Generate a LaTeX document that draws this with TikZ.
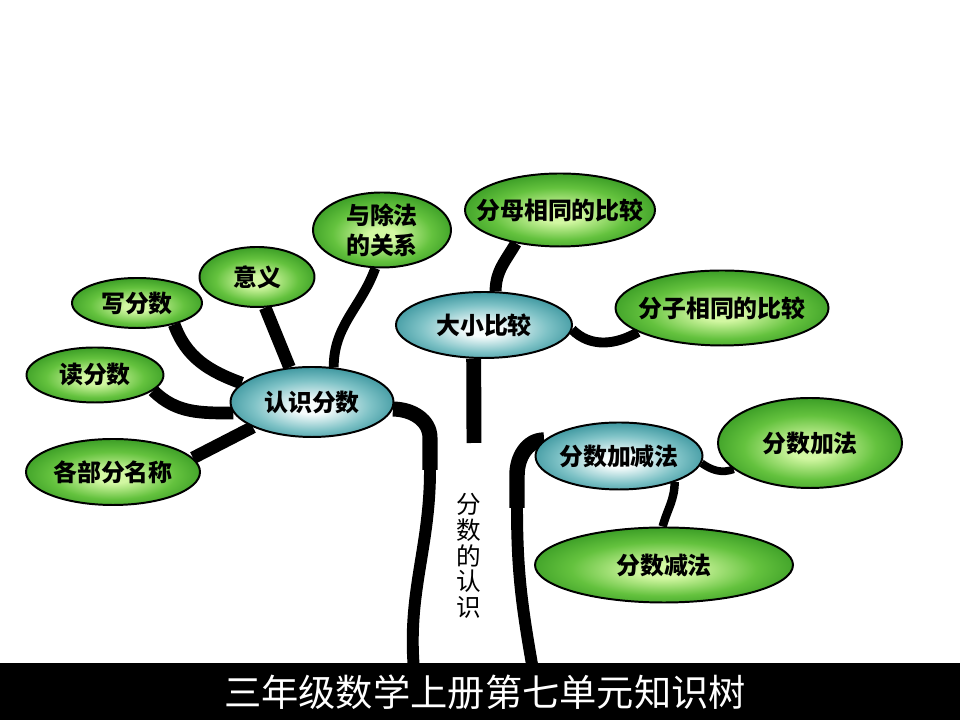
\documentclass[tikz,border=0pt]{standalone}
\usepackage{fontspec}
\newfontfamily\cjk{Noto Sans CJK SC}
\usetikzlibrary{shapes.geometric,backgrounds}
\definecolor{leaflight}{HTML}{D2F7A2}
\definecolor{leafmid}{HTML}{64C23E}
\definecolor{leafdark}{HTML}{2A8E1C}
\definecolor{hublight}{HTML}{F6FCFC}
\definecolor{hubmid}{HTML}{7EC2C6}
\definecolor{hubdark}{HTML}{2A8A94}
\pgfdeclareradialshading{leafshade}{\pgfpoint{0bp}{-4bp}}{color(0bp)=(leaflight); color(5bp)=(leaflight); color(18bp)=(leafmid); color(31bp)=(leafdark); color(50bp)=(leafdark)}
\pgfdeclareradialshading{hubshade}{\pgfpoint{0bp}{-4bp}}{color(0bp)=(hublight); color(5bp)=(hublight); color(18bp)=(hubmid); color(30bp)=(hubdark); color(50bp)=(hubdark)}
\tikzset{
  leaf/.style={ellipse, draw, line width=1.4pt, inner xsep=-30pt, inner ysep=-8pt, shade, shading=leafshade, align=center, font=\cjk\bfseries\fontsize{17}{21}\selectfont},
  hub/.style={leaf, shading=hubshade},
  sz/.style 2 args={minimum width=#1*0.025cm, minimum height=#2*0.025cm},
  twig/.style={line width=#1, line cap=butt},
  twig/.default=9pt
}

\begin{document}
\begin{tikzpicture}[x=0.025cm, y=0.025cm]
\useasboundingbox (0,0) rectangle (960,720);
% main hubs
\node[hub, sz={163}{70}] (know) at (312,318) {认识分数};
\node[hub, sz={176}{66}] (compare) at (484,395) {大小比较};
\node[hub, sz={167}{67}] (addsub) at (619,264) {分数加减法};
% leaves
\node[leaf, sz={130}{50}] (write) at (137,417) {写分数};
\node[leaf, sz={115}{60}] (meaning) at (257,443) {意义};
\node[leaf, sz={138}{75}] (divide) at (382,490) {与除法\\的关系};
\node[leaf, sz={137}{55}] (read) at (95,345) {读分数};
\node[leaf, sz={174}{66}] (parts) at (113,248) {各部分名称};
\node[leaf, sz={190}{73}] (samedenom) at (560,510) {分母相同的比较};
\node[leaf, sz={213}{75}] (samenum) at (722,412) {分子相同的比较};
\node[leaf, sz={184}{90}] (add) at (810,277) {分数加法};
\node[leaf, sz={258}{75}] (sub) at (664,155) {分数减法};
\node[font=\cjk\fontsize{17.5}{18.2}\selectfont, align=center] (stemlabel) at (469,164) {分\\数\\的\\认\\识};
% free ends
\coordinate (stemend) at (474,277);
\coordinate (lknee) at (430,282);
\coordinate (lbend) at (430,250);
\coordinate (lroot) at (414,50);
\coordinate (rknee) at (517,245);
\coordinate (rbend) at (517,212);
\coordinate (rroot) at (533,50);
\begin{scope}[on background layer]
  \draw[twig] (write.-30) to[out=-70,in=160] (know.165);
  \draw[twig] (meaning.-75) -- (know.123);
  \draw[twig=7pt] (divide.-100) to[out=-110,in=90] (know.58);
  \draw[twig] (read.-15) to[out=-45,in=180] (know.188);
  \draw[twig] (parts.10) -- (know.203);
  \draw[twig=8.5pt] (samedenom.-143) to[out=-120,in=90] (compare.71);
  \draw[twig=7pt] (compare.-3) to[out=-45,in=210] (samenum.196);
  \draw[twig=10.6pt] (compare.-107) -- (stemend);
  \draw[twig=5.5pt] (addsub.-5) to[out=-35,in=200] (add.199);
  \draw[twig=6pt] (sub.92) to[out=75,in=-90] (addsub.-25);
  % trunk
  \draw[twig=10.7pt] (know.-5) to[out=0,in=90] (lknee) -- (lbend);
  \draw[twig=8.5pt] (lbend) to[out=-90,in=95] (lroot);
  \draw[twig=11pt] (addsub.168) to[out=180,in=90] (rknee) -- (rbend);
  \draw[twig=8.5pt] (rbend) to[out=-90,in=100] (rroot);
\end{scope}
% title bar
\fill[black] (0,0) rectangle (960,57);
\node[text=white, font=\cjk\fontsize{26.5}{30}\selectfont] (title) at (485,28) {三年级数学上册第七单元知识树};
\end{tikzpicture}
\end{document}
